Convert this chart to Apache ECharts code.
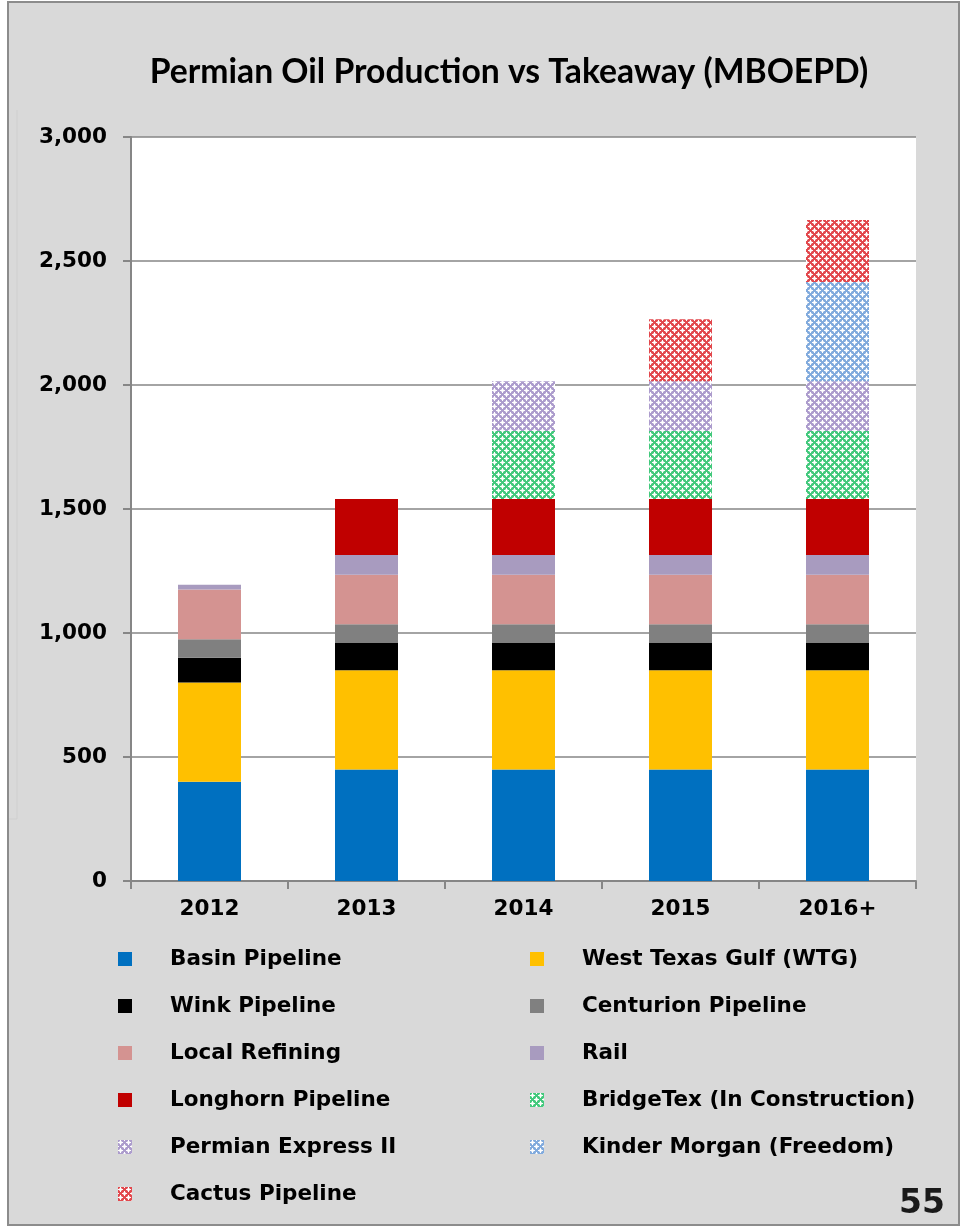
<!DOCTYPE html>
<html>
<head>
<meta charset="utf-8">
<script src="https://cdn.jsdelivr.net/npm/echarts@6/dist/echarts.min.js"></script>
<style>
html,body{margin:0;padding:0;background:#ffffff;}
#chart{width:961px;height:1229px;}
</style>
</head>
<body>
<div id="chart"></div>
<script>
// ---- data ----
const categories = ['2012', '2013', '2014', '2015', '2016+'];
const basinPipeline = [400, 450, 450, 450, 450];
const westTexasGulf = [400, 400, 400, 400, 400];
const winkPipeline = [100, 110, 110, 110, 110];
const centurionPipeline = [75, 75, 75, 75, 75];
const localRefining = [200, 200, 200, 200, 200];
const rail = [20, 80, 80, 80, 80];
const longhornPipeline = [0, 225, 225, 225, 225];
const bridgeTex = [0, 0, 275, 275, 275];
const permianExpress = [0, 0, 200, 200, 200];
const kinderMorgan = [0, 0, 0, 0, 400];
const cactusPipeline = [0, 0, 0, 250, 250];
const yTicks = [0, 500, 1000, 1500, 2000, 2500, 3000];

const FONT = 'DejaVu Sans';
const FS = 21.5;

function makePattern(color, tint) {
  const c = document.createElement('canvas');
  c.width = 8; c.height = 8;
  const ctx = c.getContext('2d');
  ctx.fillStyle = color;
  ctx.fillRect(0, 0, 8, 8);
  const centers = [[2, 2], [6, 6]];
  centers.forEach(([cx, cy]) => {
    ctx.fillStyle = tint;
    [[-1, -1], [1, -1], [-1, 1], [1, 1]].forEach(([dx, dy]) => {
      ctx.fillRect((cx + dx + 8) % 8, (cy + dy + 8) % 8, 1, 1);
    });
    ctx.fillStyle = '#ffffff';
    [[0, 0], [1, 0], [-1, 0], [2, 0], [-2, 0], [0, 1], [0, -1], [0, 2], [0, -2]].forEach(([dx, dy]) => {
      ctx.fillRect((cx + dx + 8) % 8, (cy + dy + 8) % 8, 1, 1);
    });
  });
  return { image: c, repeat: 'repeat' };
}

const seriesDefs = [
  ['Basin Pipeline', basinPipeline, '#0070C0'],
  ['West Texas Gulf (WTG)', westTexasGulf, '#FFC000'],
  ['Wink Pipeline', winkPipeline, '#000000'],
  ['Centurion Pipeline', centurionPipeline, '#808080'],
  ['Local Refining', localRefining, '#D49391'],
  ['Rail', rail, '#A89BBF'],
  ['Longhorn Pipeline', longhornPipeline, '#C00000'],
  ['BridgeTex (In Construction)', bridgeTex, makePattern('#44C97D', '#B0EAC8')],
  ['Permian Express II', permianExpress, makePattern('#AD9DCD', '#DDD5EB')],
  ['Kinder Morgan (Freedom)', kinderMorgan, makePattern('#82ABDD', '#CADCF2')],
  ['Cactus Pipeline', cactusPipeline, makePattern('#E2494E', '#F4B5B7')]
];

const series = seriesDefs.map(([name, data, color]) => ({
  name: name,
  type: 'bar',
  stack: 'total',
  barWidth: 63,
  data: data.map(v => (v === 0 ? null : v)),
  itemStyle: { color: color },
  emphasis: { disabled: true }
}));

const legendText = {
  fontFamily: FONT, fontWeight: 'bold', fontSize: FS, color: '#000',
  lineHeight: 20, padding: [0, 0, 0, 33]
};

const chart = echarts.init(document.getElementById('chart'), null, { renderer: 'canvas' });
chart.setOption({
  backgroundColor: '#ffffff',
  animation: false,
  graphic: [
    {
      type: 'rect', z: -100, silent: true,
      shape: { x: 8, y: 2, width: 951, height: 1223 },
      style: { fill: '#D9D9D9', stroke: '#8C8C8C', lineWidth: 2 }
    },
    {
      type: 'polyline', z: -99, silent: true,
      shape: { points: [[17, 110], [17, 819], [9, 819]] },
      style: { stroke: '#CFCFCF', lineWidth: 1, fill: null }
    },
    {
      type: 'text', right: 16, top: 1188, z: 10,
      style: { text: '55', font: 'bold 33px "' + FONT + '"', fill: '#1a1a1a' }
    }
  ],
  title: {
    text: 'Permian Oil Production vs Takeaway (MBOEPD)',
    left: 504, top: 50, textAlign: 'center',
    textStyle: { fontFamily: 'Lato', fontWeight: 'bold', fontSize: 33.7, color: '#000' }
  },
  grid: {
    left: 131, right: 45, top: 137, bottom: 348,
    show: true, backgroundColor: '#ffffff', borderWidth: 0
  },
  xAxis: {
    type: 'category',
    data: categories,
    axisLine: { lineStyle: { color: '#868686', width: 2 } },
    axisTick: { show: true, length: 8, lineStyle: { color: '#868686', width: 2 } },
    axisLabel: { fontFamily: FONT, fontWeight: 'bold', fontSize: FS, color: '#000', margin: 17 }
  },
  yAxis: {
    type: 'value',
    min: yTicks[0], max: yTicks[yTicks.length - 1], interval: 500,
    axisLine: { show: true, lineStyle: { color: '#868686', width: 2 } },
    axisTick: { show: true, length: 8, lineStyle: { color: '#868686', width: 2 } },
    splitLine: { lineStyle: { color: '#868686', width: 1.5 } },
    axisLabel: {
      fontFamily: FONT, fontWeight: 'bold', fontSize: FS, color: '#000', margin: 24,
      formatter: v => v.toLocaleString('en-US')
    }
  },
  legend: [
    {
      orient: 'vertical', left: 118, top: 948, padding: 0, itemWidth: 14, itemHeight: 14, itemGap: 25,
      icon: 'rect', textStyle: legendText, selectedMode: false,
      data: ['Basin Pipeline', 'Wink Pipeline', 'Local Refining', 'Longhorn Pipeline', 'Permian Express II', 'Cactus Pipeline']
    },
    {
      orient: 'vertical', left: 530, top: 948, padding: 0, itemWidth: 14, itemHeight: 14, itemGap: 25,
      icon: 'rect', textStyle: legendText, selectedMode: false,
      data: ['West Texas Gulf (WTG)', 'Centurion Pipeline', 'Rail', 'BridgeTex (In Construction)', 'Kinder Morgan (Freedom)']
    }
  ],
  series: series
});
</script>
</body>
</html>
